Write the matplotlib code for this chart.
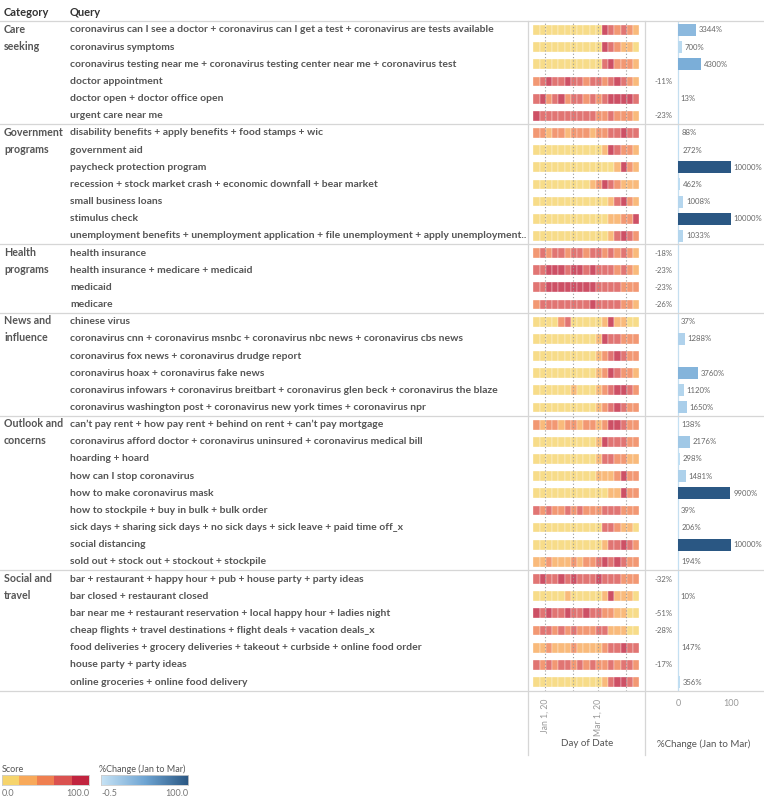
import matplotlib
matplotlib.use('Agg')
import matplotlib.pyplot as plt
import numpy as np
import pandas as pd
from matplotlib.colors import LinearSegmentedColormap, Normalize
from matplotlib.lines import Line2D

plt.rcParams['font.family'] = ['Lato', 'DejaVu Sans']

# ---- data ----
categories = ['Care\nseeking', 'Government\nprograms', 'Health\nprograms',
              'News and\ninfluence', 'Outlook and\nconcerns', 'Social and\ntravel']
cat_starts = [0, 6, 13, 17, 23, 32]

queries = [
    'coronavirus can I see a doctor + coronavirus can I get a test + coronavirus are tests available',
    'coronavirus symptoms',
    'coronavirus testing near me + coronavirus testing center near me + coronavirus test',
    'doctor appointment',
    'doctor open + doctor office open',
    'urgent care near me',
    'disability benefits + apply benefits + food stamps + wic',
    'government aid',
    'paycheck protection program',
    'recession + stock market crash + economic downfall + bear market',
    'small business loans',
    'stimulus check',
    'unemployment benefits + unemployment application + file unemployment + apply unemployment..',
    'health insurance',
    'health insurance + medicare + medicaid',
    'medicaid',
    'medicare',
    'chinese virus',
    'coronavirus cnn + coronavirus msnbc + coronavirus nbc news + coronavirus cbs news',
    'coronavirus fox news + coronavirus drudge report',
    'coronavirus hoax + coronavirus fake news',
    'coronavirus infowars + coronavirus breitbart + coronavirus glen beck + coronavirus the blaze',
    'coronavirus washington post + coronavirus new york times + coronavirus npr',
    'can\u2019t pay rent + how pay rent + behind on rent + can\u2019t pay mortgage',
    'coronavirus afford doctor + coronavirus uninsured + coronavirus medical bill',
    'hoarding + hoard',
    'how can I stop coronavirus',
    'how to make coronavirus mask',
    'how to stockpile + buy in bulk + bulk order',
    'sick days + sharing sick days + no sick days + sick leave + paid time off_x',
    'social distancing',
    'sold out + stock out + stockout + stockpile',
    'bar + restaurant + happy hour + pub + house party + party ideas',
    'bar closed + restaurant closed',
    'bar near me + restaurant reservation + local happy hour + ladies night',
    'cheap flights + travel destinations + flight deals + vacation deals_x',
    'food deliveries + grocery deliveries + takeout + curbside + online food order',
    'house party + party ideas',
    'online groceries + online food delivery',
]

pct_change = [3344, 700, 4300, -11, 13, -23,
              88, 272, 10000, 462, 1008, 10000, 1033,
              -18, -23, -23, -26,
              37, 1288, np.nan, 3760, 1120, 1650,
              138, 2176, 298, 1481, 9900, 39, 206, 10000, 194,
              -32, 10, -51, -28, 147, -17, 356]

# weekly score bins (0 = 0-20 ... 4 = 80-100), weeks starting Dec 19, 2019
week_starts = pd.date_range('2019-12-19', periods=17, freq='7D')
score_bins = [
    [0, 0, 0, 0, 0, 0, 0, 0, 0, 0, 0, 4, 3, 2, 3, 2, 1],
    [0, 0, 0, 0, 0, 0, 0, 0, 0, 0, 0, 4, 3, 2, 1, 1, 0],
    [0, 0, 0, 0, 0, 0, 0, 0, 0, 0, 0, 3, 4, 2, 2, 2, 1],
    [2, 3, 4, 3, 3, 4, 3, 3, 2, 3, 3, 2, 3, 4, 3, 2, 1],
    [3, 4, 2, 3, 4, 2, 3, 3, 2, 3, 2, 3, 4, 4, 4, 4, 3],
    [4, 3, 3, 3, 3, 3, 3, 3, 3, 3, 2, 2, 3, 2, 2, 2, 1],
    [2, 2, 1, 2, 2, 1, 2, 2, 2, 1, 2, 2, 3, 3, 4, 3, 3],
    [0, 0, 0, 0, 0, 0, 0, 0, 0, 0, 0, 1, 4, 3, 2, 2, 1],
    [0, 0, 0, 0, 0, 0, 0, 0, 0, 0, 0, 0, 0, 1, 4, 2, 1],
    [0, 0, 0, 0, 0, 0, 0, 0, 0, 1, 2, 4, 3, 2, 1, 1, 1],
    [0, 0, 0, 0, 0, 0, 0, 0, 0, 0, 0, 0, 1, 3, 4, 2, 1],
    [0, 0, 0, 0, 0, 0, 0, 0, 0, 0, 0, 0, 1, 1, 2, 2, 4],
    [0, 0, 0, 0, 0, 0, 0, 0, 0, 0, 0, 0, 1, 3, 4, 3, 2],
    [2, 3, 2, 3, 3, 2, 3, 3, 2, 3, 3, 2, 3, 2, 3, 2, 1],
    [3, 3, 4, 4, 4, 3, 4, 4, 3, 4, 3, 3, 3, 2, 3, 2, 1],
    [3, 3, 4, 4, 4, 4, 4, 4, 4, 4, 3, 3, 3, 3, 2, 2, 2],
    [2, 3, 3, 3, 3, 3, 3, 3, 3, 4, 3, 3, 3, 3, 2, 2, 1],
    [0, 0, 0, 0, 2, 3, 0, 0, 0, 0, 0, 1, 4, 1, 1, 0, 0],
    [0, 0, 0, 0, 0, 0, 0, 0, 0, 0, 1, 4, 3, 3, 2, 2, 2],
    [0, 0, 0, 0, 0, 0, 0, 0, 0, 0, 1, 2, 3, 4, 3, 2, 2],
    [0, 0, 0, 0, 0, 0, 0, 0, 0, 0, 1, 2, 4, 3, 2, 2, 1],
    [0, 0, 0, 0, 0, 0, 1, 0, 0, 0, 1, 2, 3, 4, 4, 3, 2],
    [0, 0, 0, 0, 0, 0, 0, 0, 0, 0, 1, 2, 3, 4, 3, 2, 2],
    [2, 1, 2, 2, 1, 2, 2, 1, 2, 2, 1, 2, 4, 4, 3, 2, 2],
    [0, 0, 0, 0, 0, 0, 0, 0, 0, 0, 1, 4, 3, 3, 3, 2, 2],
    [0, 0, 0, 0, 0, 0, 0, 0, 0, 0, 1, 3, 3, 2, 2, 1, 1],
    [0, 0, 0, 0, 0, 0, 0, 0, 0, 0, 1, 1, 1, 2, 4, 2, 2],
    [0, 0, 0, 0, 0, 0, 0, 0, 0, 0, 0, 0, 1, 1, 4, 2, 2],
    [3, 2, 3, 2, 2, 3, 2, 3, 2, 2, 2, 3, 3, 3, 2, 2, 2],
    [0, 0, 0, 0, 0, 0, 0, 0, 0, 0, 0, 3, 3, 2, 1, 1, 0],
    [0, 0, 0, 0, 0, 0, 0, 0, 0, 0, 0, 1, 3, 3, 4, 3, 2],
    [1, 1, 2, 1, 1, 1, 2, 1, 2, 2, 3, 4, 3, 4, 3, 2, 2],
    [3, 4, 3, 3, 4, 3, 4, 3, 3, 3, 4, 3, 3, 3, 2, 2, 2],
    [0, 0, 0, 0, 0, 1, 0, 0, 0, 0, 0, 1, 4, 1, 1, 1, 0],
    [4, 3, 4, 3, 3, 4, 3, 3, 4, 3, 3, 2, 2, 1, 1, 0, 0],
    [2, 3, 3, 2, 3, 2, 3, 2, 2, 2, 3, 3, 1, 1, 1, 0, 0],
    [1, 1, 2, 1, 1, 1, 2, 1, 1, 1, 1, 2, 3, 3, 4, 3, 3],
    [3, 2, 3, 2, 3, 3, 2, 3, 2, 3, 2, 2, 3, 2, 3, 3, 2],
    [0, 0, 0, 0, 0, 0, 0, 0, 0, 0, 0, 1, 3, 4, 4, 3, 2],
]

score_colors = ['#f6d46c', '#f8a95a', '#ef7f50', '#da5250', '#c1243f']
blue_cmap = LinearSegmentedColormap.from_list('tab_blue', ['#c7e3f5', '#6fa5d3', '#2a5783'])
blue_norm = Normalize(vmin=-0.5, vmax=100)

# ---- layout helpers (pixels, origin top-left) ----
W, H = 764, 800
top_px, bot_px = 21.4, 690.6
n = len(queries)
fig = plt.figure(figsize=(W / 100, H / 100), dpi=100)
ax_bottom = 1 - bot_px / H
ax_height = (bot_px - top_px) / H

def hline(y, x0=0, x1=W):
    fig.add_artist(Line2D([x0 / W, x1 / W], [1 - y / H, 1 - y / H], color='#d6d6d6', lw=0.9))

def vline(x, y0, y1):
    fig.add_artist(Line2D([x / W, x / W], [1 - y0 / H, 1 - y1 / H], color='#d6d6d6', lw=0.9))

txt_col = '#555555'

# ---- table text ----
ax_t = fig.add_axes([0, ax_bottom, 1, ax_height])
ax_t.set_xlim(0, W)
ax_t.set_ylim(n - 0.5, -0.5)
ax_t.axis('off')
for i, q in enumerate(queries):
    ax_t.text(70, i, q, va='center', ha='left', fontsize=7.5, fontweight='bold', color=txt_col)
for cat, s in zip(categories, cat_starts):
    for k, line in enumerate(cat.split('\n')):
        ax_t.text(4, s + k - 0.05, line, va='center', ha='left', fontsize=7.7, fontweight='bold', color=txt_col)

fig.text(4 / W, 1 - 13 / H, 'Category', fontsize=8, fontweight='bold', color='#333333', va='center')
fig.text(70 / W, 1 - 13 / H, 'Query', fontsize=8, fontweight='bold', color='#333333', va='center')

# ---- heatmap strips ----
jan1 = pd.Timestamp('2020-01-01')
day_x = np.array([(d - jan1).days for d in week_starts])
px_per_day = 81 / 91
ax_h = fig.add_axes([528 / W, ax_bottom, (645 - 528) / W, ax_height])
ax_h.set_xlim(-17 / px_per_day, 100 / px_per_day)
ax_h.set_ylim(n - 0.5, -0.5)
for i, row in enumerate(score_bins):
    cols = [score_colors[b] for b in row]
    ax_h.barh(np.full(len(row), i), np.full(len(row), 7), left=day_x, height=0.57,
              color=cols, alpha=0.8, edgecolor=(1, 1, 1, 0.35), linewidth=0.3)
month_days = [(d - jan1).days for d in pd.date_range('2020-01-01', periods=4, freq='MS')]
for d in month_days:
    ax_h.axvline(d, color='#9a9a9a', lw=0.8, ls=(0, (1, 2)), zorder=3)
ax_h.set_xticks([0, 60])
ax_h.set_xticklabels(['Jan 1, 20', 'Mar 1, 20'], rotation=90, fontsize=6.2, color='#999999')
ax_h.tick_params(axis='x', length=0, pad=6)
ax_h.set_yticks([])
for sp in ax_h.spines.values():
    sp.set_visible(False)

# ---- % change bars ----
px_per_unit = 53 / 100
ax_b = fig.add_axes([645 / W, ax_bottom, (W - 645) / W, ax_height])
ax_b.set_xlim(-33 / px_per_unit, 86 / px_per_unit)
ax_b.set_ylim(n - 0.5, -0.5)
vals = np.array(pct_change, dtype=float) / 100
ys = np.arange(n)
ok = ~np.isnan(vals)
ax_b.barh(ys[ok], vals[ok], height=0.7, color=blue_cmap(blue_norm(vals[ok])), zorder=2)
ax_b.axvline(0, color='#c5dff0', lw=0.9, zorder=1)
for y, v, p in zip(ys, vals, pct_change):
    if np.isnan(v):
        continue
    if v >= 0:
        ax_b.annotate(f'{p:.0f}%', (v, y), xytext=(2, 0), textcoords='offset points',
                      va='center', ha='left', fontsize=5.6, color='#666666')
    else:
        ax_b.annotate(f'{p:.0f}%', (0, y), xytext=(-4, 0), textcoords='offset points',
                      va='center', ha='right', fontsize=5.6, color='#666666')
ax_b.set_xticks([0, 100])
ax_b.set_xticklabels(['0', '100'], fontsize=6.5, color='#999999')
ax_b.tick_params(axis='x', length=0, pad=6)
ax_b.set_yticks([])
for sp in ax_b.spines.values():
    sp.set_visible(False)

# ---- grid / separators ----
hline(top_px)
row_h = (bot_px - top_px) / n
for s in cat_starts[1:] + [n]:
    hline(top_px + s * row_h)
vline(528, top_px, 755)
vline(645, top_px, 755)

fig.text(587 / W, 1 - 744 / H, 'Day of Date', fontsize=7, color=txt_col, ha='center', va='center')
fig.text(704 / W, 1 - 744 / H, '%Change (Jan to Mar)', fontsize=7, color=txt_col, ha='center', va='center')

# ---- legends ----
fig.text(2 / W, 1 - 769 / H, 'Score', fontsize=6.5, color=txt_col, va='center')
ax_l1 = fig.add_axes([2 / W, 1 - 785 / H, 87 / W, 10 / H])
ax_l1.imshow([np.arange(5)], cmap=matplotlib.colors.ListedColormap(score_colors), aspect='auto')
ax_l1.set_xticks([]); ax_l1.set_yticks([])
for sp in ax_l1.spines.values():
    sp.set_color('#cccccc'); sp.set_linewidth(0.6)
fig.text(2 / W, 1 - 793 / H, '0.0', fontsize=6.5, color='#777777', va='center')
fig.text(89 / W, 1 - 793 / H, '100.0', fontsize=6.5, color='#777777', va='center', ha='right')

fig.text(99 / W, 1 - 769 / H, '%Change (Jan to Mar)', fontsize=6.5, color=txt_col, va='center')
ax_l2 = fig.add_axes([101 / W, 1 - 785 / H, 87 / W, 10 / H])
ax_l2.imshow([np.linspace(0, 1, 200)], cmap=blue_cmap, aspect='auto')
ax_l2.set_xticks([]); ax_l2.set_yticks([])
for sp in ax_l2.spines.values():
    sp.set_color('#cccccc'); sp.set_linewidth(0.6)
fig.text(101 / W, 1 - 793 / H, '-0.5', fontsize=6.5, color='#777777', va='center')
fig.text(188 / W, 1 - 793 / H, '100.0', fontsize=6.5, color='#777777', va='center', ha='right')

fig.savefig('out.png', dpi=100, facecolor='white')
